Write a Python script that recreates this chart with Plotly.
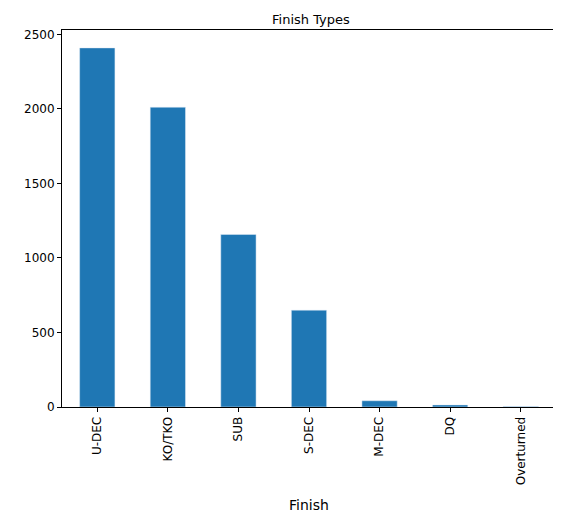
import plotly.graph_objects as go

finish_types = ['U-DEC', 'KO/TKO', 'SUB', 'S-DEC', 'M-DEC', 'DQ', 'Overturned']
counts = [2410, 2012, 1158, 650, 42, 14, 3]

fig = go.Figure()
fig.add_trace(go.Bar(x=finish_types, y=counts, marker_color='#1f77b4', width=0.5))

axis_style = dict(showline=True, linecolor='black', linewidth=1, mirror=True,
                  ticks='outside', ticklen=4, tickcolor='black', showgrid=False,
                  zeroline=False)
fig.update_layout(
    width=561, height=518,
    margin=dict(l=54, r=13, t=22, b=119),
    plot_bgcolor='white', paper_bgcolor='white',
    font=dict(family='DejaVu Sans', size=12, color='black'),
    title=dict(text='Finish Types', x=0.54, xanchor='center', y=0.978, yanchor='middle',
               font=dict(size=13)),
    showlegend=False,
    bargap=0.5,
)
fig.update_xaxes(title_text='Finish', tickangle=-90, range=[-0.5, 6.5], **axis_style)
fig.update_yaxes(range=[0, 2530], tickvals=[0, 500, 1000, 1500, 2000, 2500], **axis_style)

fig.write_html("out.html")
